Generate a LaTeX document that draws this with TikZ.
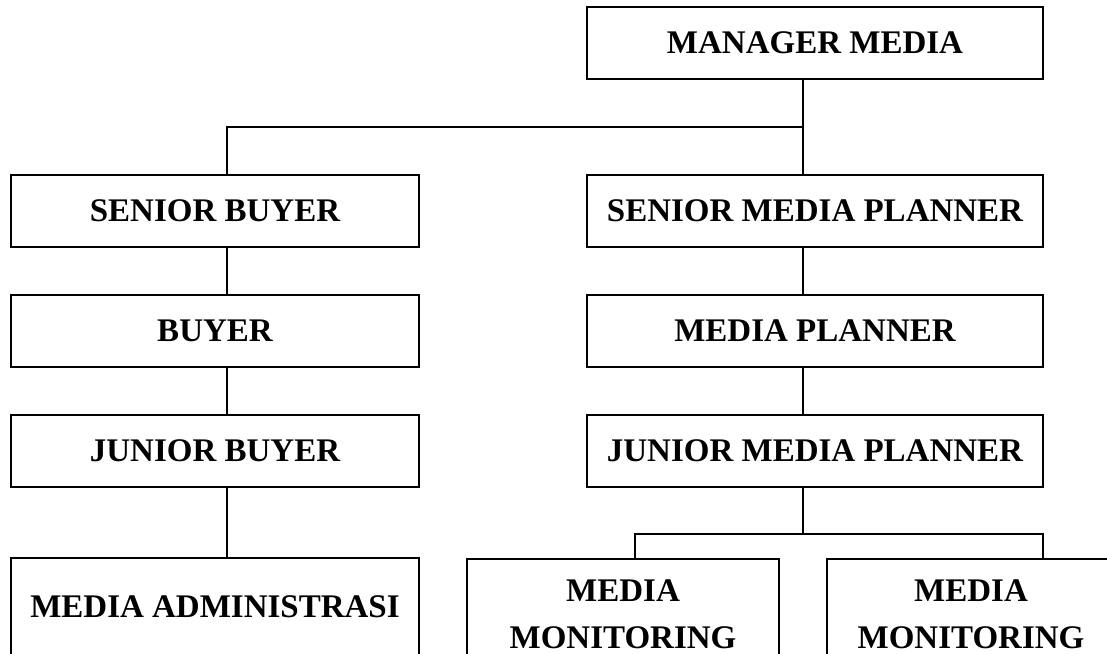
\documentclass[tikz,border=0pt]{standalone}
\usepackage{fontspec}
\setmainfont{Liberation Serif}
\usetikzlibrary{positioning}
\tikzset{
        unit/.style={draw, line width=2pt, inner sep=0pt, outer sep=0pt, minimum height=72pt,
                     font=\fontsize{33}{47}\selectfont\bfseries},
        wide/.style={unit, minimum width=456pt},
        narrow/.style={unit, minimum width=408pt},
        link/.style={line width=1.6pt},
        node distance=48pt
        }

\begin{document}
\begin{tikzpicture}[x=1pt, y=-1pt]
        \clip (0,0) rectangle (1107,653);
        \node[wide](mgr) at (815,43){MANAGER MEDIA};
        \node[narrow](sb) at (215,211){SENIOR BUYER};
        \node[wide](smp) at (815,211){SENIOR MEDIA PLANNER};
        \node[narrow, below=of sb](by){BUYER};
        \node[wide, below=of smp](mp){MEDIA PLANNER};
        \node[narrow, below=of by](jb){JUNIOR BUYER};
        \node[wide, below=of mp](jmp){JUNIOR MEDIA PLANNER};
        \node[narrow, minimum height=98pt, below=71pt of jb](ma){MEDIA ADMINISTRASI};
        \node[unit, minimum width=312pt, minimum height=110pt, align=center](mm1) at (623,614){MEDIA\\MONITORING};
        \node[unit, minimum width=288pt, minimum height=110pt, align=center](mm2) at (971,614){MEDIA\\MONITORING};

        \coordinate (top) at (803,127);
        \coordinate (fork) at (803,534);
        \draw[link] ([xshift=-12pt]mgr.south) -- ([xshift=-12pt]smp.north);
        \draw[link] ([xshift=12pt]sb.north) |- (top);
        \foreach \a/\b in {sb/by, by/jb, jb/ma}
            \draw[link] ([xshift=12pt]\a.south) -- ([xshift=12pt]\b.north);
        \foreach \a/\b in {smp/mp, mp/jmp}
            \draw[link] ([xshift=-12pt]\a.south) -- ([xshift=-12pt]\b.north);
        \draw[link] ([xshift=-12pt]jmp.south) -- (fork);
        \draw[link] ([xshift=12pt]mm1.north) |- (fork) -| ([xshift=72pt]mm2.north);
\end{tikzpicture}
\end{document}
